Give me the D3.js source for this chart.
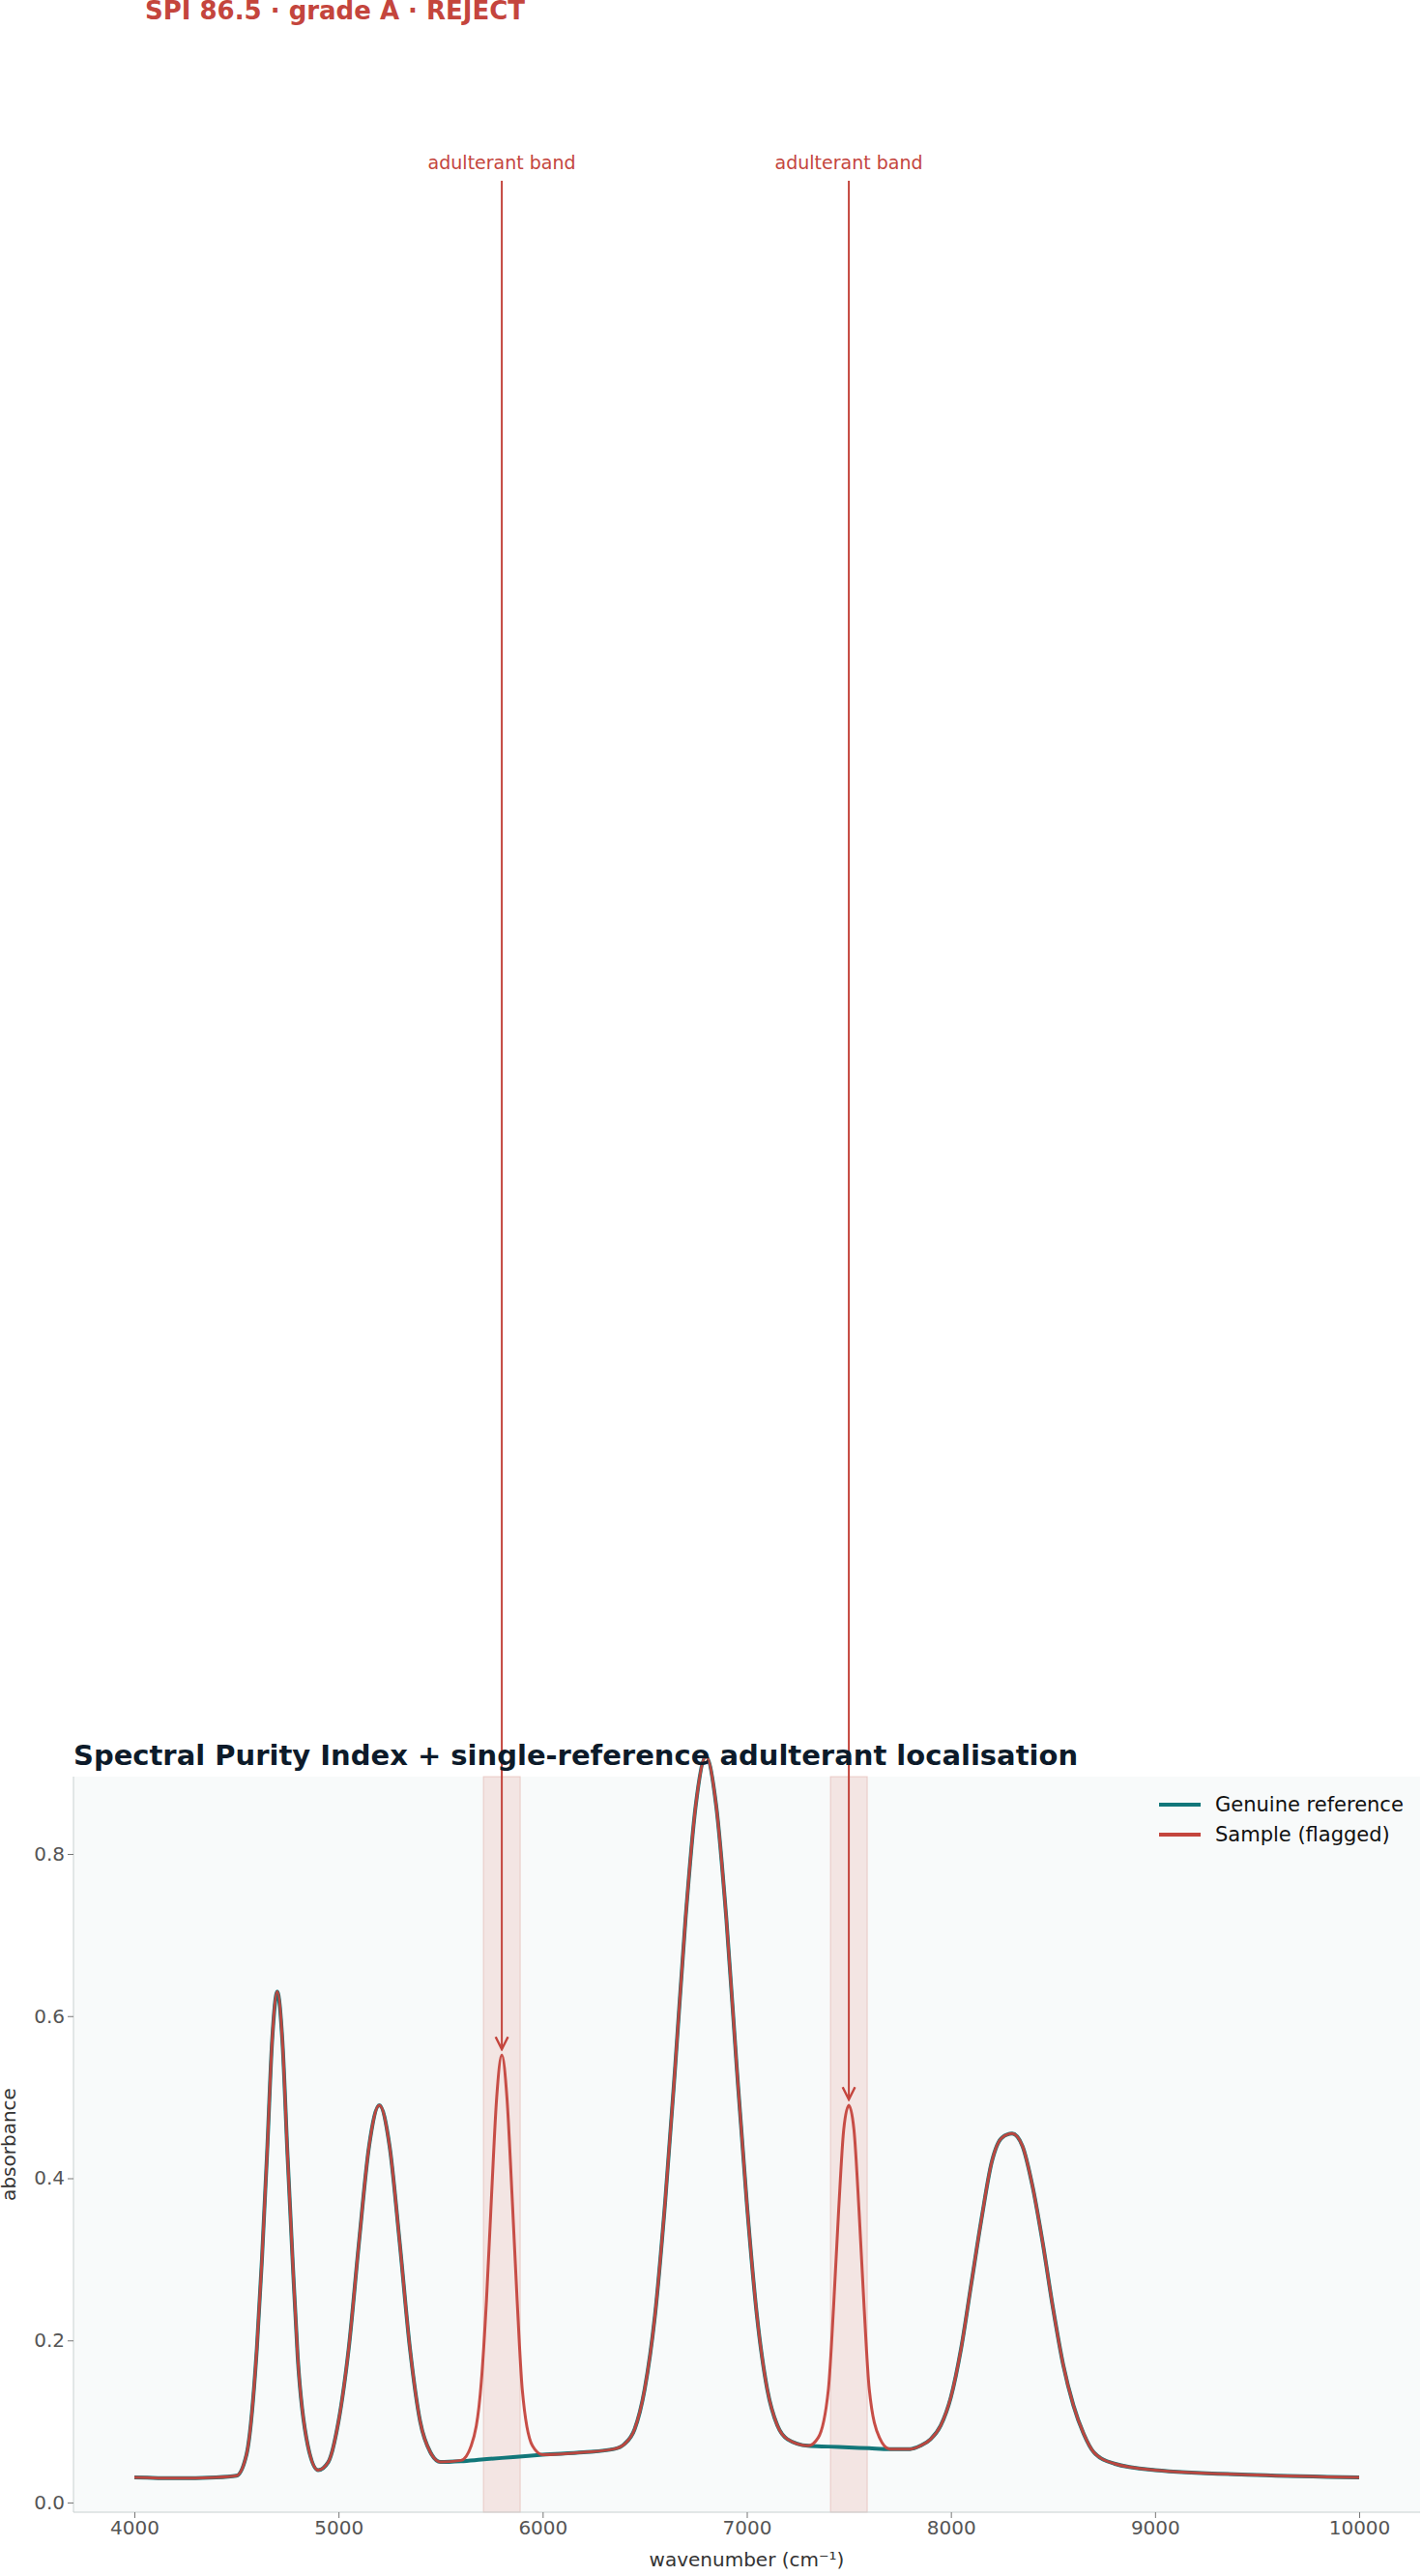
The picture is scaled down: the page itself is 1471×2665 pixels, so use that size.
<!DOCTYPE html>
<html>
<head>
<meta charset="utf-8">
<script src="https://cdn.jsdelivr.net/npm/d3@7"></script>
<style>
  body { margin: 0; background: #fff; font-family: "DejaVu Sans", sans-serif; }
</style>
</head>
<body>
<svg width="1471" height="2665"></svg>
<script>
// Reference spectrum
const waves = [4000,4200,4400,4500,4550,4600,4625,4650,4675,4700,4725,4750,4775,4800,4850,4900,4950,5000,5050,5100,5150,5200,5250,5300,5350,5400,5450,5500,5600,5700,5800,5900,6000,6200,6350,6400,6450,6500,6550,6600,6650,6700,6750,6800,6850,6900,6950,7000,7050,7100,7150,7200,7300,7400,7500,7600,7700,7800,7850,7900,7950,8000,8050,8100,8150,8200,8250,8300,8350,8400,8450,8500,8550,8600,8650,8700,8800,9000,9500,10000];
const refValues = [.031,.030,.031,.033,.06,.19,.30,.43,.57,.63,.57,.43,.30,.18,.07,.040,.05,.10,.19,.32,.44,.49,.44,.32,.19,.10,.062,.050,.051,.053,.055,.057,.059,.062,.066,.072,.09,.14,.23,.37,.54,.72,.86,.92,.86,.72,.54,.37,.23,.14,.095,.078,.070,.069,.068,.067,.066,.066,.070,.078,.095,.13,.19,.27,.35,.42,.45,.455,.44,.39,.32,.24,.17,.12,.085,.062,.048,.040,.034,.031];

// Sample differs only inside the flagged bands
const band1Waves = [5600,5650,5700,5725,5750,5775,5800,5825,5850,5875,5900,5950,6000];
const band1Values = [.052,.07,.15,.25,.38,.50,.552,.50,.38,.25,.14,.07,.059];
const band2Waves = [7300,7350,7400,7425,7450,7475,7500,7525,7550,7575,7600,7650,7700];
const band2Values = [.070,.08,.14,.24,.36,.46,.49,.46,.36,.24,.14,.08,.066];

const bands = [[5710, 5890], [7410, 7590]];
const bandPeaks = [[5800, 0.552], [7500, 0.49]];
const xTicks = [4000,5000,6000,7000,8000,9000,10000];
const yTicks = [0, 0.2, 0.4, 0.6, 0.8];
const seriesNames = ["Genuine reference", "Sample (flagged)"];
const seriesColors = ["#12777a", "#c4453d"];

const refData = waves.map((w, i) => ({ w, v: refValues[i] }));
const bandData = band1Waves.map((w, i) => ({ w, v: band1Values[i] }))
  .concat(band2Waves.map((w, i) => ({ w, v: band2Values[i] })));
const sampleData = refData
  .filter(d => !((d.w >= 5600 && d.w <= 6000) || (d.w >= 7300 && d.w <= 7700)))
  .concat(bandData)
  .sort((a, b) => a.w - b.w);

const svg = d3.select("svg");
const pLeft = 76, pRight = 1469, pTop = 1838, pBottom = 2599;

const x = d3.scaleLinear().domain([4000, 10000]).range([139, 1406]);
const y = d3.scaleLinear().domain([0, 0.8]).range([2589, 1918]);

// plot background
svg.append("rect").attr("x", pLeft).attr("y", pTop)
  .attr("width", pRight - pLeft).attr("height", pBottom - pTop).attr("fill", "#f8fafa");

// bands
svg.selectAll(".band").data(bands).enter().append("rect")
  .attr("x", d => x(d[0])).attr("width", d => x(d[1]) - x(d[0]))
  .attr("y", pTop).attr("height", pBottom - pTop)
  .attr("fill", "#e8b5ae").attr("fill-opacity", 0.3)
  .attr("stroke", "#e0a8a0").attr("stroke-opacity", 0.5);

// axes
const xAxis = svg.append("g").attr("transform", `translate(0,${pBottom})`)
  .call(d3.axisBottom(x).tickValues(xTicks).tickFormat(d3.format("d")).tickSizeOuter(0));
xAxis.select(".domain").attr("d", `M${pLeft},0H${pRight}`);
const yAxis = svg.append("g").attr("transform", `translate(${pLeft},0)`)
  .call(d3.axisLeft(y).tickValues(yTicks).tickFormat(d3.format(".1f")).tickSizeOuter(0));
yAxis.select(".domain").attr("d", `M0,${pTop}V${pBottom}`);
svg.selectAll(".domain").attr("stroke", "#c8d0d0");
svg.selectAll(".tick line").attr("stroke", "#777");
svg.selectAll(".tick text").attr("fill", "#555").attr("font-size", 20)
  .attr("font-family", "DejaVu Sans");

svg.append("text").attr("x", (pLeft + pRight) / 2).attr("y", 2655)
  .attr("text-anchor", "middle").attr("font-size", 20).attr("fill", "#333")
  .text("wavenumber (cm⁻¹)");
svg.append("text").attr("transform", `translate(16,${(pTop + pBottom) / 2}) rotate(-90)`)
  .attr("text-anchor", "middle").attr("font-size", 20).attr("fill", "#333")
  .text("absorbance");

// lines
const line = d3.line().x(d => x(d.w)).y(d => y(d.v)).curve(d3.curveMonotoneX);
svg.append("path").datum(refData).attr("d", line)
  .attr("fill", "none").attr("stroke", seriesColors[0]).attr("stroke-width", 4);
svg.append("path").datum(sampleData).attr("d", line)
  .attr("fill", "none").attr("stroke", seriesColors[1]).attr("stroke-width", 3)
  .attr("stroke-opacity", 0.95);

// annotations
svg.append("defs").append("marker").attr("id", "arr")
  .attr("viewBox", "0 0 10 10").attr("refX", 9).attr("refY", 5)
  .attr("markerWidth", 8).attr("markerHeight", 8).attr("orient", "auto")
  .append("path").attr("d", "M1,1L9,5L1,9").attr("fill", "none")
  .attr("stroke", "#c4453d").attr("stroke-width", 1.5);
bandPeaks.forEach(p => {
  svg.append("line").attr("x1", x(p[0])).attr("x2", x(p[0]))
    .attr("y1", 187).attr("y2", y(p[1]) - 6)
    .attr("stroke", "#c4453d").attr("stroke-width", 2).attr("marker-end", "url(#arr)");
  svg.append("text").attr("x", x(p[0])).attr("y", 175)
    .attr("text-anchor", "middle").attr("font-size", 19).attr("fill", "#c4453d")
    .text("adulterant band");
});

// legend
const lg = svg.append("g").attr("transform", "translate(1199,1867)");
seriesNames.forEach((n, i) => {
  lg.append("line").attr("x1", 0).attr("x2", 43).attr("y1", i * 31).attr("y2", i * 31)
    .attr("stroke", seriesColors[i]).attr("stroke-width", 4);
  lg.append("text").attr("x", 58).attr("y", i * 31 + 7).attr("font-size", 21)
    .attr("fill", "#111").text(n);
});

// titles
svg.append("text").attr("x", pLeft).attr("y", 1826).attr("font-size", 29)
  .attr("font-weight", "bold").attr("fill", "#0d1b2a")
  .text("Spectral Purity Index + single-reference adulterant localisation");
svg.append("text").attr("x", 150).attr("y", 20).attr("font-size", 26)
  .attr("font-weight", "bold").attr("fill", "#c4453d")
  .text("SPI 86.5  ·  grade A  ·  REJECT");
</script>
</body>
</html>
